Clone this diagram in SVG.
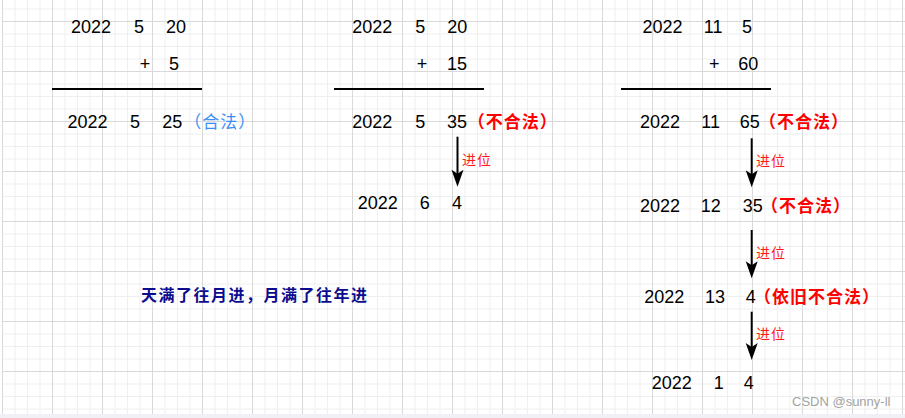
<svg xmlns="http://www.w3.org/2000/svg" width="905" height="418" viewBox="0 0 905 418">
<style>
.n{font-family:"Liberation Sans",Arial,sans-serif;font-size:18px;fill:#000;text-anchor:middle}
.bad{font-family:"Noto Sans CJK SC",sans-serif;font-size:17px;font-weight:bold;fill:#ff0000;letter-spacing:1px}
.ok{font-family:"Noto Sans CJK SC",sans-serif;font-size:17px;fill:#3b8ef5;letter-spacing:1px}
.carry{font-family:"Noto Sans CJK SC",sans-serif;font-size:14px;fill:#ff1a1a;letter-spacing:1px}
.note{font-family:"Noto Sans CJK SC",sans-serif;font-size:16px;font-weight:bold;fill:#0c0c8f;letter-spacing:1.5px}
.rule{stroke:#000;stroke-width:2;fill:none}
.arr{stroke:#000;stroke-width:2;fill:none;marker-end:url(#head)}
.wm{font-family:"Liberation Sans",Arial,sans-serif;font-size:13px;fill:#a3a3a3}
</style>
<defs>
<pattern id="grid" patternUnits="userSpaceOnUse" x="2" y="21" width="50" height="50">
<rect x="0" y="0" width="50" height="50" fill="#fff"/>
<rect x="12.5" y="0" width="1" height="50" fill="#efefef"/>
<rect x="25" y="0" width="1" height="50" fill="#efefef"/>
<rect x="37.5" y="0" width="1" height="50" fill="#efefef"/>
<rect x="0" y="12.5" width="50" height="1" fill="#efefef"/>
<rect x="0" y="25" width="50" height="1" fill="#efefef"/>
<rect x="0" y="37.5" width="50" height="1" fill="#efefef"/>
<rect x="0" y="0" width="1" height="50" fill="#d9d9d9"/>
<rect x="0" y="0" width="50" height="1" fill="#d9d9d9"/>
</pattern>
<marker id="head" markerUnits="userSpaceOnUse" markerWidth="20" markerHeight="14" viewBox="-18 -7 20 14" refX="0" refY="0" orient="auto" overflow="visible">
<path d="M8,0 L-9,-6 L-5,0 L-9,6 Z" fill="#000"/>
</marker>
</defs>
<rect x="0" y="0" width="905" height="418" fill="#fff"/>
<rect x="2" y="0" width="903" height="414" fill="url(#grid)"/>
<rect x="0" y="414" width="905" height="4" fill="#f0f0f5"/>

<g id="connectors">
<line class="rule" x1="52" y1="89" x2="202" y2="89"/>
<line class="rule" x1="334" y1="89" x2="484" y2="89"/>
<line class="rule" x1="621" y1="89" x2="771" y2="89"/>
<line class="arr" x1="457.5" y1="136.7" x2="457.5" y2="178.7"/>
<line class="arr" x1="751.7" y1="138.3" x2="751.7" y2="179.3"/>
<line class="arr" x1="751.7" y1="230" x2="751.7" y2="270.3"/>
<line class="arr" x1="751.7" y1="311.7" x2="751.7" y2="352"/>
</g>

<g id="col1-top">
<text class="n" x="91" y="33">2022</text><text class="n" x="139" y="33">5</text><text class="n" x="176" y="33">20</text>
<text class="n" x="145" y="70">+</text><text class="n" x="174" y="70">5</text>
</g>
<g id="col1-result">
<text class="n" x="87.5" y="128">2022</text><text class="n" x="135" y="128">5</text><text class="n" x="172.3" y="128">25</text>
<text class="ok" x="184.3" y="128">（合法）</text>
</g>

<g id="col2-top">
<text class="n" x="372.3" y="33">2022</text><text class="n" x="420.3" y="33">5</text><text class="n" x="457.2" y="33">20</text>
<text class="n" x="422" y="70">+</text><text class="n" x="457" y="70">15</text>
</g>
<g id="col2-result">
<text class="n" x="372.3" y="128">2022</text><text class="n" x="420.3" y="128">5</text><text class="n" x="457" y="128">35</text>
<text class="bad" x="467.7" y="128">（不合法）</text>
</g>
<g id="col2-carry"><text class="carry" x="462" y="165">进位</text></g>
<g id="col2-final">
<text class="n" x="377.8" y="209">2022</text><text class="n" x="424.7" y="209">6</text><text class="n" x="457" y="209">4</text>
</g>

<g id="col3-top">
<text class="n" x="662.5" y="33">2022</text><text class="n" x="713.2" y="33">11</text><text class="n" x="747" y="33">5</text>
<text class="n" x="714.2" y="70">+</text><text class="n" x="748.2" y="70">60</text>
</g>
<g id="col3-r1">
<text class="n" x="660" y="128">2022</text><text class="n" x="710.7" y="128">11</text><text class="n" x="749.7" y="128">65</text>
<text class="bad" x="759" y="128">（不合法）</text>
</g>
<g id="col3-c1"><text class="carry" x="756" y="165.5">进位</text></g>
<g id="col3-r2">
<text class="n" x="660" y="212">2022</text><text class="n" x="710.8" y="212">12</text><text class="n" x="752.7" y="212">35</text>
<text class="bad" x="761" y="212">（不合法）</text>
</g>
<g id="col3-c2"><text class="carry" x="756" y="257.5">进位</text></g>
<g id="col3-r3">
<text class="n" x="664.2" y="302.7">2022</text><text class="n" x="715" y="302.7">13</text><text class="n" x="750.7" y="302.7">4</text>
<text class="bad" x="754" y="302.7">（依旧不合法）</text>
</g>
<g id="col3-c3"><text class="carry" x="756" y="339">进位</text></g>
<g id="col3-r4">
<text class="n" x="671.7" y="389.3">2022</text><text class="n" x="718.7" y="389.3">1</text><text class="n" x="748.7" y="389.3">4</text>
</g>

<g id="note"><text class="note" x="141" y="300.5">天满了往月进，月满了往年进</text></g>
<text class="wm" x="792" y="405.7">CSDN @sunny-ll</text>
</svg>
